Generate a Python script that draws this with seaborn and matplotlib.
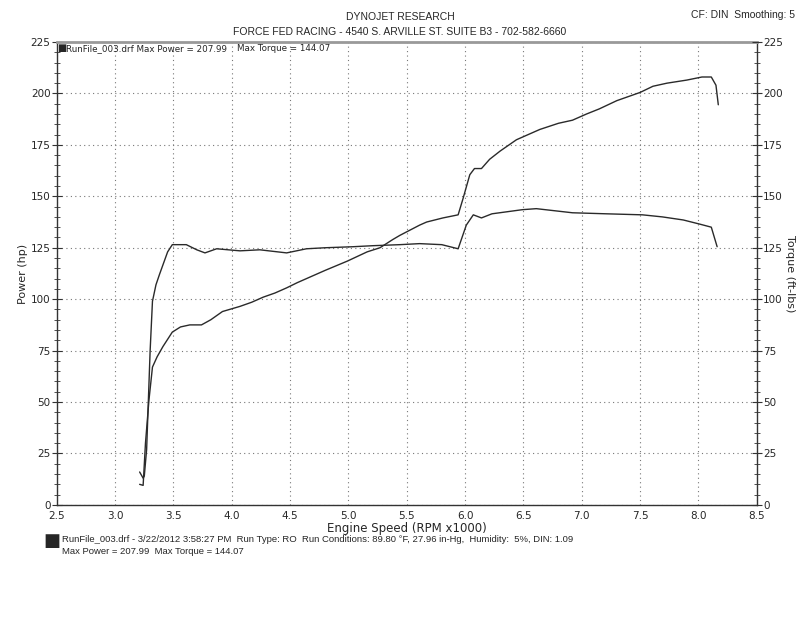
import pandas as pd
import seaborn as sns
import matplotlib.pyplot as plt
from matplotlib.ticker import MultipleLocator

# -------- DATA --------
power_rpm = [3.21, 3.24, 3.26, 3.29, 3.32, 3.36, 3.41, 3.49, 3.56, 3.64, 3.74, 3.82, 3.92,
             4.07, 4.17, 4.27, 4.37, 4.47, 4.56, 4.64, 4.80, 4.99, 5.16, 5.27, 5.38, 5.44,
             5.61, 5.67, 5.81, 5.94, 5.98, 6.04, 6.08, 6.14, 6.21, 6.30, 6.44, 6.64, 6.80,
             6.92, 7.04, 7.15, 7.30, 7.50, 7.61, 7.73, 7.90, 8.03, 8.11, 8.15, 8.17]
power_hp = [10.0, 9.5, 30.0, 51.0, 67.0, 72.0, 77.0, 84.0, 86.5, 87.5, 87.5, 90.0, 94.0,
            96.5, 98.5, 101.0, 103.0, 105.5, 108.0, 110.0, 114.0, 118.5, 123.0, 125.0, 129.0, 131.0,
            136.0, 137.5, 139.5, 141.0, 148.5, 160.5, 163.5, 163.5, 168.0, 172.0, 177.5, 182.5, 185.5,
            187.0, 190.0, 192.5, 196.5, 200.5, 203.5, 205.0, 206.5, 208.0, 208.0, 204.0, 194.5]

torque_rpm = [3.21, 3.24, 3.25, 3.27, 3.30, 3.32, 3.35, 3.38, 3.45, 3.49, 3.61, 3.70, 3.77,
              3.87, 4.07, 4.24, 4.47, 4.64, 4.80, 5.04, 5.21, 5.44, 5.61, 5.80, 5.94, 6.01,
              6.07, 6.14, 6.23, 6.49, 6.61, 6.92, 7.21, 7.52, 7.69, 7.87, 8.01, 8.11, 8.16]
torque_ftlb = [16.0, 13.0, 14.0, 27.0, 75.0, 99.0, 107.0, 112.0, 123.0, 126.5, 126.5, 124.0, 122.5,
               124.5, 123.5, 124.0, 122.5, 124.5, 125.0, 125.5, 126.0, 126.5, 127.0, 126.5, 124.5, 136.0,
               141.0, 139.5, 141.5, 143.5, 144.0, 142.0, 141.5, 141.0, 140.0, 138.5, 136.5, 135.0, 125.5]

power_df = pd.DataFrame({"rpm": power_rpm, "value": power_hp})
torque_df = pd.DataFrame({"rpm": torque_rpm, "value": torque_ftlb})

# -------- STYLE --------
sns.set_style("white")
plt.rcParams['font.family'] = ['DejaVu Sans']
line_kw = dict(color="#2a2a2a", linewidth=1.0, sort=False, estimator=None)

fig = plt.figure(figsize=(8, 6.18), dpi=100)
ax = fig.add_axes([0.071, 0.183, 0.875, 0.749])

sns.lineplot(data=power_df, x="rpm", y="value", ax=ax, **line_kw)
sns.lineplot(data=torque_df, x="rpm", y="value", ax=ax, **line_kw)

ax.set_xlim(2.5, 8.5)
ax.set_ylim(0, 225)
ax.xaxis.set_major_locator(MultipleLocator(0.5))
ax.xaxis.set_minor_locator(MultipleLocator(0.1))
ax.yaxis.set_major_locator(MultipleLocator(25))
ax.yaxis.set_minor_locator(MultipleLocator(5))
ax.set_xticklabels([f"{v:.1f}" for v in ax.get_xticks()])
ax.grid(True, which="major", linestyle=(0, (1, 3)), color="#777777", linewidth=0.8)
ax.tick_params(which="both", direction="inout", color="#333333", labelsize=7.5,
               pad=1, right=False, top=False)
ax.tick_params(which="major", length=7)
ax.tick_params(which="minor", length=5)

for side in ["left", "bottom", "right"]:
    ax.spines[side].set_color("#333333")
    ax.spines[side].set_linewidth(1.0)
ax.spines["top"].set_color("#999999")
ax.spines["top"].set_linewidth(2.0)

ax.set_xlabel("Engine Speed (RPM x1000)", fontsize=8.5, labelpad=0.5)
ax.set_ylabel("Power (hp)", fontsize=8)
ax.yaxis.set_label_coords(-0.041, 0.5)

# right-hand torque axis
ax2 = ax.twinx()
ax2.set_ylim(0, 225)
ax2.yaxis.set_major_locator(MultipleLocator(25))
ax2.yaxis.set_minor_locator(MultipleLocator(5))
ax2.tick_params(which="both", direction="inout", color="#333333", labelsize=7.5, pad=1)
ax2.tick_params(which="major", length=7)
ax2.tick_params(which="minor", length=5)
for s in ax2.spines.values():
    s.set_visible(False)
ax2.set_ylabel("Torque (ft-lbs)", fontsize=8, rotation=270, va="center")
ax2.yaxis.set_label_coords(1.047, 0.5)

# header text
fig.text(0.5, 0.972, "DYNOJET RESEARCH", ha="center", va="center", fontsize=7.5,
         family="Liberation Sans")
fig.text(0.5, 0.949, "FORCE FED RACING - 4540 S. ARVILLE ST. SUITE B3 - 702-582-6660",
         ha="center", va="center", fontsize=7.5, family="Liberation Sans")
fig.text(0.994, 0.975, "CF: DIN  Smoothing: 5", ha="right", va="center", fontsize=7.5,
         family="Liberation Sans")

# in-plot legend line
ax.text(0.0, 0.997, "\u25A0", transform=ax.transAxes, ha="left", va="top", fontsize=7)
ax.text(0.013, 0.995, "RunFile_003.drf Max Power = 207.99", transform=ax.transAxes,
        ha="left", va="top", fontsize=6.3)
ax.text(0.257, 0.995, "Max Torque = 144.07", transform=ax.transAxes,
        ha="left", va="top", fontsize=6.3)

# footer run info
fig.text(0.054, 0.124, "\u25A0", ha="left", va="center", fontsize=13)
fig.text(0.078, 0.127, "RunFile_003.drf - 3/22/2012 3:58:27 PM  Run Type: RO  Run Conditions: "
         "89.80 \u00b0F, 27.96 in-Hg,  Humidity:  5%, DIN: 1.09",
         ha="left", va="center", fontsize=6.8, family="Liberation Sans")
fig.text(0.078, 0.108, "Max Power = 207.99  Max Torque = 144.07",
         ha="left", va="center", fontsize=6.8, family="Liberation Sans")

fig.savefig("out.png", dpi=100, facecolor="white")
plt.close(fig)
